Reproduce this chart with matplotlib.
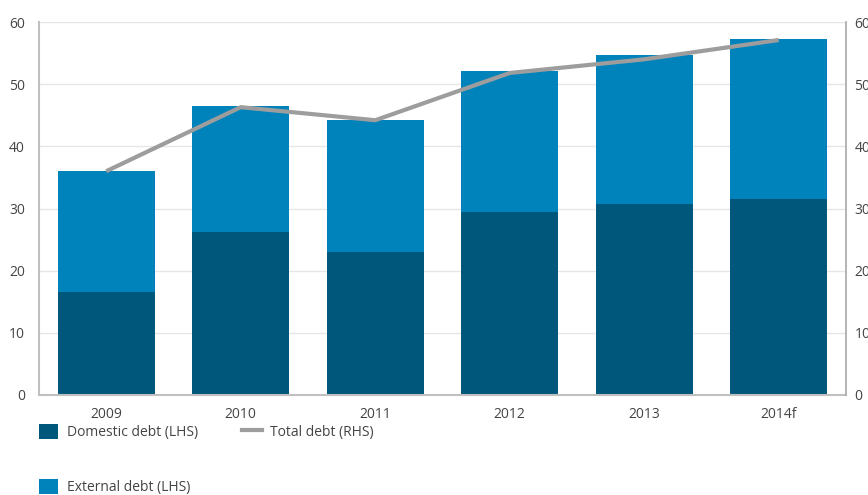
import numpy as np
import matplotlib
matplotlib.use("Agg")
import matplotlib.pyplot as plt
from matplotlib.patches import Patch
from matplotlib.lines import Line2D

plt.rcParams['font.family'] = ['Open Sans', 'DejaVu Sans']

# Debt figures by year
years = ['2009', '2010', '2011', '2012', '2013', '2014f']
domestic = [16.6, 26.2, 23.0, 29.4, 30.7, 31.5]
external = [19.4, 20.3, 21.2, 22.7, 24.0, 25.7]
total = [36.0, 46.3, 44.2, 51.8, 54.0, 57.1]

dom_color = '#00577c'
ext_color = '#0082bb'
line_color = '#9d9d9d'
text_color = '#444444'

fig = plt.figure(figsize=(8.68, 4.95), dpi=100)
ax = fig.add_axes([39 / 868, 1 - 395 / 495, 807 / 868, 373 / 495])

x = np.arange(len(years))
ax.bar(x, domestic, width=0.72, color=dom_color, zorder=2)
ax.bar(x, external, width=0.72, bottom=domestic, color=ext_color, zorder=2)

ax.set_xlim(-0.5, len(years) - 0.5)
ax.set_ylim(0, 60)
ax.set_yticks(range(0, 61, 10))
ax.set_xticks(x)
ax.set_xticklabels(years)
ax.grid(axis='y', color='#e6e6e6', linewidth=1, zorder=0)
ax.set_axisbelow(True)
ax.tick_params(axis='both', length=0, labelsize=10, labelcolor=text_color)
ax.tick_params(axis='y', pad=10)
ax.tick_params(axis='x', pad=9)

for side in ['top', 'right']:
    ax.spines[side].set_visible(False)
for side in ['left', 'bottom']:
    ax.spines[side].set_color('#c0c0c0')
    ax.spines[side].set_linewidth(1.5)

# Total debt on the right-hand scale
ax2 = ax.twinx()
ax2.plot(x, total, color=line_color, linewidth=3, solid_capstyle='butt', zorder=3)
ax2.set_ylim(0, 60)
ax2.set_yticks(range(0, 61, 10))
ax2.tick_params(axis='y', length=0, labelsize=10, labelcolor=text_color, pad=6)
for side in ['top', 'left', 'bottom']:
    ax2.spines[side].set_visible(False)
ax2.spines['right'].set_color('#a8a8a8')
ax2.spines['right'].set_linewidth(1.2)

handles = [
    Patch(facecolor=dom_color, label='Domestic debt (LHS)'),
    Patch(facecolor=ext_color, label='External debt (LHS)'),
    Line2D([], [], color=line_color, linewidth=3, label='Total debt (RHS)'),
]
leg = fig.legend(handles=handles, ncol=2, loc='upper left',
                 bbox_to_anchor=(39 / 868, 1 - 424 / 495), frameon=False,
                 fontsize=10, handlelength=1.4, handleheight=1.3,
                 handletextpad=0.6, columnspacing=3.2, labelspacing=2.8,
                 borderaxespad=0, borderpad=0)
for t in leg.get_texts():
    t.set_color(text_color)

fig.savefig('out.png', dpi=100)
